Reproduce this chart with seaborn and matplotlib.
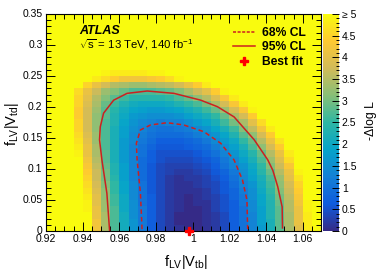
import numpy as np
import pandas as pd
import matplotlib
matplotlib.use("Agg")
import matplotlib.pyplot as plt
import seaborn as sns
from matplotlib.colors import LinearSegmentedColormap
from matplotlib.lines import Line2D
from matplotlib.ticker import FixedLocator

# binning of the likelihood scan (f_LV|V_tb| along x, f_LV|V_td| along y)
x_lo, dx, nx = 0.92, 0.005, 30
y_lo, dy, ny = 0.0, 0.01, 35

# -Delta log L in tenths, one row per y bin (bottom row first), saturated at 5
nll_tenths = [
    [50, 50, 50, 50, 50, 42, 34, 27, 21, 16, 11, 7, 4, 2, 1, 0, 0, 1, 2, 4, 7, 10, 13, 17, 22, 28, 34, 40, 48, 50],
    [50, 50, 50, 50, 50, 42, 34, 27, 21, 16, 11, 7, 4, 2, 0, 0, 0, 1, 2, 4, 7, 10, 13, 18, 22, 28, 34, 41, 48, 50],
    [50, 50, 50, 50, 50, 41, 34, 27, 21, 15, 11, 7, 4, 2, 0, 0, 0, 1, 2, 4, 7, 10, 13, 18, 23, 28, 34, 41, 48, 50],
    [50, 50, 50, 50, 49, 41, 33, 27, 20, 15, 11, 7, 4, 2, 1, 0, 0, 1, 3, 5, 7, 10, 14, 18, 23, 28, 35, 41, 49, 50],
    [50, 50, 50, 50, 49, 40, 33, 26, 20, 15, 10, 7, 4, 2, 1, 0, 1, 1, 3, 5, 7, 11, 14, 19, 23, 29, 35, 42, 49, 50],
    [50, 50, 50, 50, 48, 40, 32, 26, 20, 14, 10, 7, 4, 2, 1, 0, 1, 2, 3, 5, 8, 11, 15, 19, 24, 30, 36, 43, 50, 50],
    [50, 50, 50, 50, 47, 39, 32, 25, 19, 14, 10, 6, 4, 2, 1, 1, 1, 2, 4, 6, 8, 12, 15, 20, 25, 31, 37, 44, 50, 50],
    [50, 50, 50, 50, 46, 38, 31, 25, 19, 14, 10, 6, 4, 2, 1, 1, 2, 3, 4, 6, 9, 13, 16, 21, 26, 32, 38, 45, 50, 50],
    [50, 50, 50, 50, 45, 37, 30, 24, 18, 13, 9, 6, 4, 2, 1, 2, 2, 3, 5, 7, 10, 14, 18, 22, 27, 33, 40, 47, 50, 50],
    [50, 50, 50, 50, 44, 37, 30, 23, 18, 13, 9, 6, 4, 3, 2, 2, 3, 4, 6, 8, 11, 15, 19, 24, 29, 35, 41, 49, 50, 50],
    [50, 50, 50, 50, 43, 36, 29, 23, 18, 13, 9, 6, 4, 3, 3, 3, 4, 5, 7, 10, 13, 16, 20, 25, 31, 37, 43, 50, 50, 50],
    [50, 50, 50, 50, 42, 35, 28, 22, 17, 13, 9, 7, 5, 4, 4, 4, 5, 6, 8, 11, 14, 18, 22, 27, 33, 39, 46, 50, 50, 50],
    [50, 50, 50, 49, 41, 34, 28, 22, 17, 13, 10, 7, 5, 5, 5, 5, 6, 8, 10, 13, 16, 20, 24, 29, 35, 41, 48, 50, 50, 50],
    [50, 50, 50, 48, 41, 34, 27, 22, 17, 13, 10, 8, 6, 6, 6, 7, 8, 9, 12, 15, 18, 22, 27, 32, 38, 44, 50, 50, 50, 50],
    [50, 50, 50, 47, 40, 33, 27, 22, 17, 14, 11, 9, 7, 7, 7, 8, 9, 11, 14, 17, 20, 25, 29, 35, 41, 47, 50, 50, 50, 50],
    [50, 50, 50, 46, 39, 33, 27, 22, 18, 14, 12, 10, 9, 9, 9, 10, 12, 14, 16, 19, 23, 28, 32, 38, 44, 50, 50, 50, 50, 50],
    [50, 50, 50, 45, 38, 32, 27, 22, 18, 15, 13, 11, 10, 10, 11, 12, 14, 16, 19, 22, 26, 31, 36, 42, 48, 50, 50, 50, 50, 50],
    [50, 50, 50, 45, 38, 32, 27, 23, 19, 16, 14, 13, 12, 13, 13, 15, 17, 19, 22, 26, 30, 34, 40, 46, 50, 50, 50, 50, 50, 50],
    [50, 50, 50, 44, 38, 32, 28, 23, 20, 17, 16, 15, 15, 15, 16, 18, 20, 22, 25, 29, 34, 38, 44, 50, 50, 50, 50, 50, 50, 50],
    [50, 50, 50, 44, 38, 33, 28, 24, 21, 19, 18, 17, 17, 18, 19, 21, 23, 26, 29, 33, 38, 43, 49, 50, 50, 50, 50, 50, 50, 50],
    [50, 50, 50, 45, 39, 34, 29, 26, 23, 21, 20, 20, 20, 21, 23, 25, 27, 30, 34, 38, 43, 48, 50, 50, 50, 50, 50, 50, 50, 50],
    [50, 50, 50, 45, 40, 35, 31, 28, 26, 24, 24, 24, 24, 25, 27, 29, 32, 35, 39, 43, 48, 50, 50, 50, 50, 50, 50, 50, 50, 50],
    [50, 50, 50, 46, 41, 37, 33, 31, 29, 27, 27, 27, 28, 29, 31, 34, 37, 40, 44, 49, 50, 50, 50, 50, 50, 50, 50, 50, 50, 50],
    [50, 50, 50, 50, 45, 41, 38, 35, 34, 33, 33, 34, 35, 36, 38, 41, 44, 48, 50, 50, 50, 50, 50, 50, 50, 50, 50, 50, 50, 50],
    [50, 50, 50, 50, 50, 48, 46, 44, 42, 42, 42, 43, 44, 46, 49, 50, 50, 50, 50, 50, 50, 50, 50, 50, 50, 50, 50, 50, 50, 50],
    [50, 50, 50, 50, 50, 50, 49, 48, 48, 48, 48, 49, 49, 50, 50, 50, 50, 50, 50, 50, 50, 50, 50, 50, 50, 50, 50, 50, 50, 50],
] + [[50] * 30 for _ in range(9)]

# contours
c95_x = [0.9547, 0.9532, 0.9505, 0.9492, 0.9496, 0.9514, 0.9569, 0.9642, 0.9752, 0.9898,
         1.0044, 1.0135, 1.0226, 1.0336, 1.041, 1.0437, 1.0464, 1.0488, 1.049]
c95_y = [0.0, 0.061, 0.1145, 0.147, 0.168, 0.19, 0.211, 0.222, 0.2258, 0.222,
         0.211, 0.2005, 0.184, 0.147, 0.1145, 0.098, 0.0715, 0.039, 0.005]
c68_x = [0.9724, 0.9715, 0.9697, 0.9693, 0.9715, 0.977, 0.9861, 0.9952, 1.0062, 1.0153,
         1.0226, 1.0272, 1.0296, 1.030]
c68_y = [0.003, 0.061, 0.1145, 0.1415, 0.163, 0.171, 0.1747, 0.171, 0.160, 0.1415,
         0.1145, 0.082, 0.05, 0.003]
best_x, best_y = 0.998, 0.0

xt = [0.92, 0.94, 0.96, 0.98, 1.0, 1.02, 1.04, 1.06]
xt_labels = ['0.92', '0.94', '0.96', '0.98', '1', '1.02', '1.04', '1.06']
yt = [0, 0.05, 0.1, 0.15, 0.2, 0.25, 0.3, 0.35]
yt_labels = ['0', '0.05', '0.1', '0.15', '0.2', '0.25', '0.3', '0.35']
zt = [0, 0.5, 1, 1.5, 2, 2.5, 3, 3.5, 4, 4.5, 5]
zt_labels = ['0', '0.5', '1', '1.5', '2', '2.5', '3', '3.5', '4', '4.5', '≥ 5']

# ROOT kBird palette
bird = LinearSegmentedColormap.from_list("bird", list(zip(
    [0.0, 0.125, 0.25, 0.375, 0.5, 0.625, 0.75, 0.875, 1.0],
    [(0.2082, 0.1664, 0.5293), (0.0592, 0.3599, 0.8684), (0.0780, 0.5041, 0.8385),
     (0.0232, 0.6419, 0.7914), (0.1802, 0.7178, 0.6425), (0.5301, 0.7492, 0.4662),
     (0.8186, 0.7328, 0.3499), (0.9956, 0.7862, 0.1968), (0.9764, 0.9832, 0.0539)])))

plt.rcParams['font.family'] = ['Liberation Sans', 'DejaVu Sans']
plt.rcParams['mathtext.fontset'] = 'custom'
plt.rcParams['mathtext.rm'] = 'Liberation Sans'
plt.rcParams['mathtext.it'] = 'Liberation Sans:italic'

fig = plt.figure(figsize=(3.82, 2.76), dpi=100)
ax = fig.add_axes([46/382, 1-231/276, 275/382, 217/276])
cax = fig.add_axes([323/382, 1-231/276, 16/382, 217/276])

df = pd.DataFrame(np.array(nll_tenths) / 10.0)
sns.heatmap(df, ax=ax, cbar_ax=cax, cmap=bird, vmin=0, vmax=5)
ax.invert_yaxis()
for s in ax.spines.values():
    s.set_visible(True)
    s.set_linewidth(0.8)

# heatmap cells sit at integer positions, map data values onto them
def X(v): return (np.asarray(v) - x_lo) / dx
def Y(v): return (np.asarray(v) - y_lo) / dy

ax.set_xticks(X(xt))
ax.set_xticklabels(xt_labels, rotation=0)
ax.xaxis.set_minor_locator(FixedLocator(X(np.arange(0.92, 1.0701, 0.005))))
ax.set_yticks(Y(yt))
ax.set_yticklabels(yt_labels, rotation=0)
ax.yaxis.set_minor_locator(FixedLocator(Y(np.arange(0, 0.3501, 0.01))))
ax.tick_params(which='both', direction='in', top=True, right=True, labelsize=7.5, width=0.7, pad=2.5)
ax.tick_params(which='major', length=6.5)
ax.tick_params(which='minor', length=3.5)

cb = ax.collections[0].colorbar
cb.set_ticks(zt)
cb.set_ticklabels(zt_labels)
cb.ax.yaxis.set_minor_locator(FixedLocator(np.arange(0, 5.01, 0.1)))
cb.ax.tick_params(which='both', direction='in', labelsize=7.5, width=0.7, pad=2)
cb.ax.tick_params(which='major', length=5)
cb.ax.tick_params(which='minor', length=2.5)
cb.outline.set_visible(False)

red = '#cc2020'
ax.plot(X(c95_x), Y(c95_y), color=red, lw=1.1)
ax.plot(X(c68_x), Y(c68_y), color=red, lw=1.1, ls=(0, (3, 2)))
ax.plot(X([best_x]), Y([best_y]), marker='P', color='red', ms=6, ls='none', clip_on=False, zorder=10)

fig.text(79/382, 1-31/276, 'ATLAS', fontsize=9, fontweight='bold', style='italic', va='center')
fig.text(79/382, 1-45/276, r'$\sqrt{\mathregular{s}}$ = 13 TeV, 140 fb$^{\mathregular{-1}}$', fontsize=8.2, va='center')

handles = [Line2D([], [], color=red, lw=1.1, ls=(0, (2, 1))),
           Line2D([], [], color=red, lw=1.1),
           Line2D([], [], color='red', marker='P', ms=6, ls='none')]
ax.legend(handles, ['68% CL', '95% CL', 'Best fit'], loc='upper left',
          bbox_to_anchor=(233/382, 1-27/276), bbox_transform=fig.transFigure,
          frameon=False, prop={'weight': 'bold', 'size': 8.7},
          handlelength=1.8, handletextpad=0.6, labelspacing=0.2, borderpad=0, borderaxespad=0)

fig.text(186/382, 1-262/276, r'$\mathregular{f_{LV}|V_{tb}|}$', fontsize=10.5, ha='center', va='center')
fig.text(12/382, 1-124/276, r'$\mathregular{f_{LV}|V_{td}|}$', fontsize=10.5, ha='center', va='center', rotation=90)
fig.text(371/382, 1-121/276, '-Δlog L', fontsize=8.8, ha='center', va='center', rotation=90)

fig.savefig('out.png', dpi=100)
